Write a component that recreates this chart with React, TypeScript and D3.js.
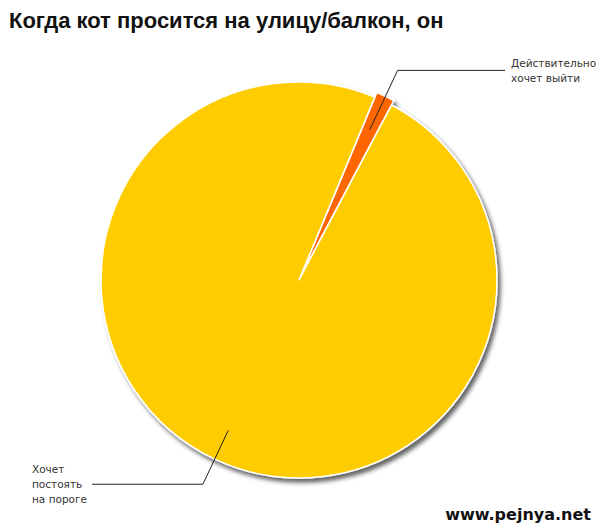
import React from 'react';
import * as d3 from 'd3';

type Slice = { label: string[]; value: number; color: string };

const labels = [['Действительно', 'хочет выйти'], ['Хочет', 'постоять', 'на пороге']];
const values = [1.5, 98.5];
const colors = ['#ff6600', '#ffcc00'];

const data: Slice[] = values.map((v, i) => ({ label: labels[i], value: v, color: colors[i] }));

const App = () => {
  const width = 600;
  const height = 530;
  const cx = 299;
  const cy = 280;
  const r = 198;

  const pie = d3
    .pie<Slice>()
    .sort(null)
    .value((d) => d.value)
    .startAngle((22.5 * Math.PI) / 180)
    .endAngle((22.5 * Math.PI) / 180 + 2 * Math.PI);
  const arcs = pie(data);

  const arc = d3.arc<d3.PieArcDatum<Slice>>().innerRadius(0).outerRadius(r);

  // point along the middle angle of a slice
  const at = (a: d3.PieArcDatum<Slice>, rr: number) => {
    const m = (a.startAngle + a.endAngle) / 2;
    return [Math.sin(m) * rr, -Math.cos(m) * rr];
  };

  return (
    <svg
      width={width}
      height={height}
      style={{ position: 'absolute', left: 0, top: 0, background: '#fff' }}
    >
      <defs>
        <filter id="shadow" x="-20%" y="-20%" width="140%" height="140%">
          <feDropShadow dx="3" dy="4" stdDeviation="2" floodColor="#000" floodOpacity="0.6" />
        </filter>
      </defs>
      <text
        x={9}
        y={28}
        fontFamily="Liberation Sans, Arial, sans-serif"
        fontWeight="bold"
        fontSize={22}
        fill="#111"
      >
        Когда кот просится на улицу/балкон, он
      </text>
      <g transform={`translate(${cx},${cy})`}>
        <g filter="url(#shadow)">
          {arcs.map((a, i) => {
            const off = i === 0 ? at(a, 5) : [0, 0];
            return (
              <path
                key={i}
                d={arc(a) || ''}
                transform={`translate(${off[0]},${off[1]})`}
                fill={a.data.color}
                stroke="#fff"
                strokeWidth={1.5}
                strokeLinejoin="round"
              />
            );
          })}
        </g>
        {arcs.map((a, i) => {
          const p0 = at(a, r * 0.84);
          const p1 = at(a, i === 0 ? r * 1.17 : r * 1.14);
          const right = p1[0] > 0;
          const xEnd = right ? 505 - cx : 92 - cx;
          const tx = right ? 511 - cx : 32 - cx;
          const lines = a.data.label;
          const lh = 15;
          const ty0 = right ? p1[1] - 3 : p1[1] - 11;
          return (
            <g key={'l' + i}>
              <polyline
                points={`${p0[0]},${p0[1]} ${p1[0]},${p1[1]} ${xEnd},${p1[1]}`}
                fill="none"
                stroke="#222"
                strokeWidth={1}
              />
              <text fontFamily="DejaVu Sans, Verdana, sans-serif" fontSize={10.5} fill="#333">
                {lines.map((t, j) => (
                  <tspan key={j} x={tx} y={ty0 + j * lh}>
                    {t}
                  </tspan>
                ))}
              </text>
            </g>
          );
        })}
      </g>
      <text
        x={591}
        y={520}
        textAnchor="end"
        fontFamily="DejaVu Sans, Verdana, sans-serif"
        fontWeight="bold"
        fontSize={16}
        fill="#111"
      >
        www.pejnya.net
      </text>
    </svg>
  );
};

export default App;
